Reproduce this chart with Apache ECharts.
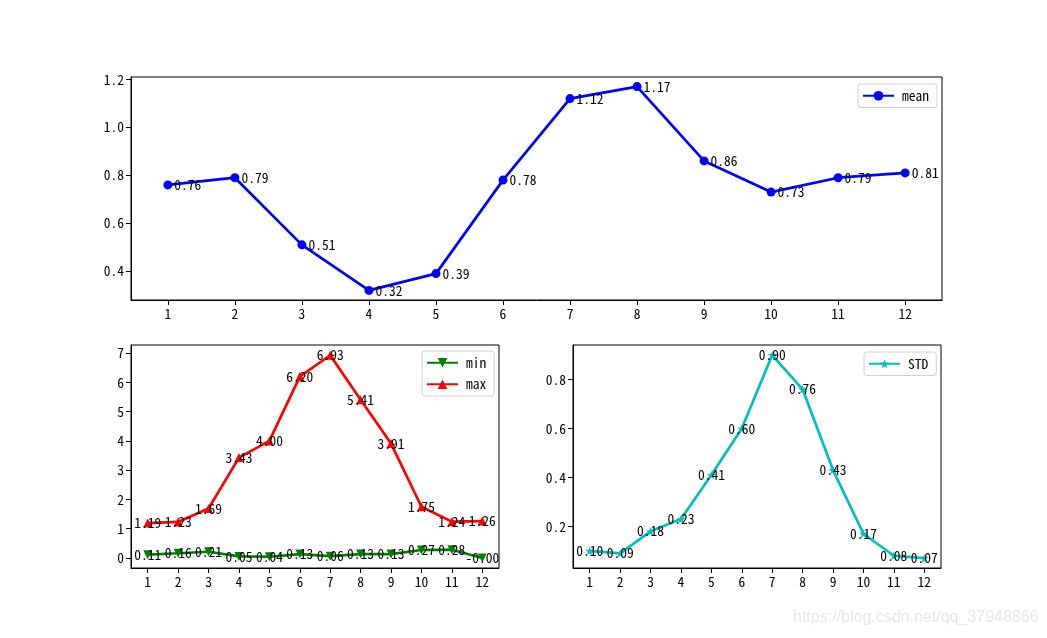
<!DOCTYPE html>
<html><head><meta charset="utf-8">
<script src="https://cdn.jsdelivr.net/npm/echarts@6/dist/echarts.min.js"></script>
<style>html,body{margin:0;padding:0;background:#fff}#c{width:1047px;height:638px}</style>
</head><body><div id="c"></div>
<script>
const months = [1,2,3,4,5,6,7,8,9,10,11,12];
const meanVals = [0.76,0.79,0.51,0.32,0.39,0.78,1.12,1.17,0.86,0.73,0.79,0.81];
const minVals = [0.11,0.16,0.21,0.05,0.04,0.13,0.06,0.13,0.13,0.27,0.28,-0.001];
const maxVals = [1.19,1.23,1.69,3.43,4.00,6.20,6.93,5.41,3.91,1.75,1.24,1.26];
const stdVals = [0.10,0.09,0.18,0.23,0.41,0.60,0.90,0.76,0.43,0.17,0.08,0.07];
const meanTicks = [0.4,0.6,0.8,1.0,1.2];
const mmTicks = [0,1,2,3,4,5,6,7];
const stdTicks = [0.2,0.4,0.6,0.8];

const FONT = '"Noto Sans Mono CJK SC", "DejaVu Sans Mono", monospace';
const FS = 13.5;
const pairs = vals => months.map((m,i)=>[m, vals[i]]);
const star = 'path://M50,0 L61.8,36.2 L100,36.2 L69.1,58.8 L80.9,95.1 L50,72.7 L19.1,95.1 L30.9,58.8 L0,36.2 L38.2,36.2 Z';

function xAx(gi){
  return {type:'value', gridIndex:gi, min:0.45, max:12.55,
    axisLine:{show:true, onZero:false, lineStyle:{color:'#000'}},
    axisTick:{show:true, length:5, lineStyle:{color:'#000'}, customValues:months},
    axisLabel:{color:'#000', fontFamily:FONT, fontSize:FS, margin:7, customValues:months, formatter:v=>String(v)},
    splitLine:{show:false}};
}
function yAx(gi,min,max,ticks,dec){
  return {type:'value', gridIndex:gi, min:min, max:max,
    axisLine:{show:true, onZero:false, lineStyle:{color:'#000'}},
    axisTick:{show:true, length:5, lineStyle:{color:'#000'}, customValues:ticks},
    axisLabel:{color:'#000', fontFamily:FONT, fontSize:FS, margin:7, customValues:ticks, formatter:v=>v.toFixed(dec)},
    splitLine:{show:false}};
}
const lbl = (pos, dist) => ({show:true, position:pos, distance:dist, color:'#000', fontFamily:FONT, fontSize:FS,
  formatter:p=>p.value[1].toFixed(2)});
const legendBase = {orient:'vertical', itemWidth:31, itemHeight:12, itemGap:8,
  padding:[5,8,5,4], borderColor:'#d0d0d0', borderWidth:1, borderRadius:3, backgroundColor:'#fff',
  textStyle:{color:'#000', fontFamily:FONT, fontSize:FS, padding:[0,0,0,3]}};

const option = {
  animation:false,
  backgroundColor:'#fff',
  textStyle:{fontFamily:FONT},
  grid:[
    {left:131, top:77, width:811, height:223, show:true, borderColor:'#000', borderWidth:1, backgroundColor:'transparent'},
    {left:131, top:345, width:368, height:223, show:true, borderColor:'#000', borderWidth:1, backgroundColor:'transparent'},
    {left:573, top:345, width:368, height:223, show:true, borderColor:'#000', borderWidth:1, backgroundColor:'transparent'}
  ],
  xAxis:[xAx(0), xAx(1), xAx(2)],
  yAxis:[yAx(0,0.28,1.21,meanTicks,1), yAx(1,-0.345,7.28,mmTicks,0), yAx(2,0.03,0.941,stdTicks,1)],
  legend:[
    Object.assign({}, legendBase, {data:['mean'], left:858, top:84}),
    Object.assign({}, legendBase, {data:['min','max'], left:422, top:351}),
    Object.assign({}, legendBase, {data:['STD'], left:864, top:352})
  ],
  series:[
    {name:'mean', type:'line', xAxisIndex:0, yAxisIndex:0, data:pairs(meanVals),
      symbol:'circle', symbolSize:9, color:'#0000ff', lineStyle:{width:2.7, color:'#0000ff'},
      itemStyle:{color:'#0000ff'}, label:lbl('right',2)},
    {name:'min', type:'line', xAxisIndex:1, yAxisIndex:1, data:pairs(minVals),
      symbol:'triangle', symbolRotate:180, symbolSize:9, color:'#008000', lineStyle:{width:2.7, color:'#008000'},
      itemStyle:{color:'#008000'}, label:lbl('inside',0)},
    {name:'max', type:'line', xAxisIndex:1, yAxisIndex:1, data:pairs(maxVals),
      symbol:'triangle', symbolSize:9, color:'#ff0000', lineStyle:{width:2.7, color:'#ff0000'},
      itemStyle:{color:'#ff0000'}, label:lbl('inside',0)},
    {name:'STD', type:'line', xAxisIndex:2, yAxisIndex:2, data:pairs(stdVals),
      symbol:star, symbolSize:9, color:'#00bfbf', lineStyle:{width:2.7, color:'#00bfbf'},
      itemStyle:{color:'#00bfbf'}, label:lbl('inside',0)}
  ],
  graphic:[{type:'text', left:793, top:610, style:{text:'https://blog.csdn.net/qq_37948866', fill:'#e6e6e6',
    font:'16px "Liberation Sans", sans-serif'}}]
};
const chart = echarts.init(document.getElementById('c'), null, {renderer:'canvas'});
chart.setOption(option);
</script></body></html>
